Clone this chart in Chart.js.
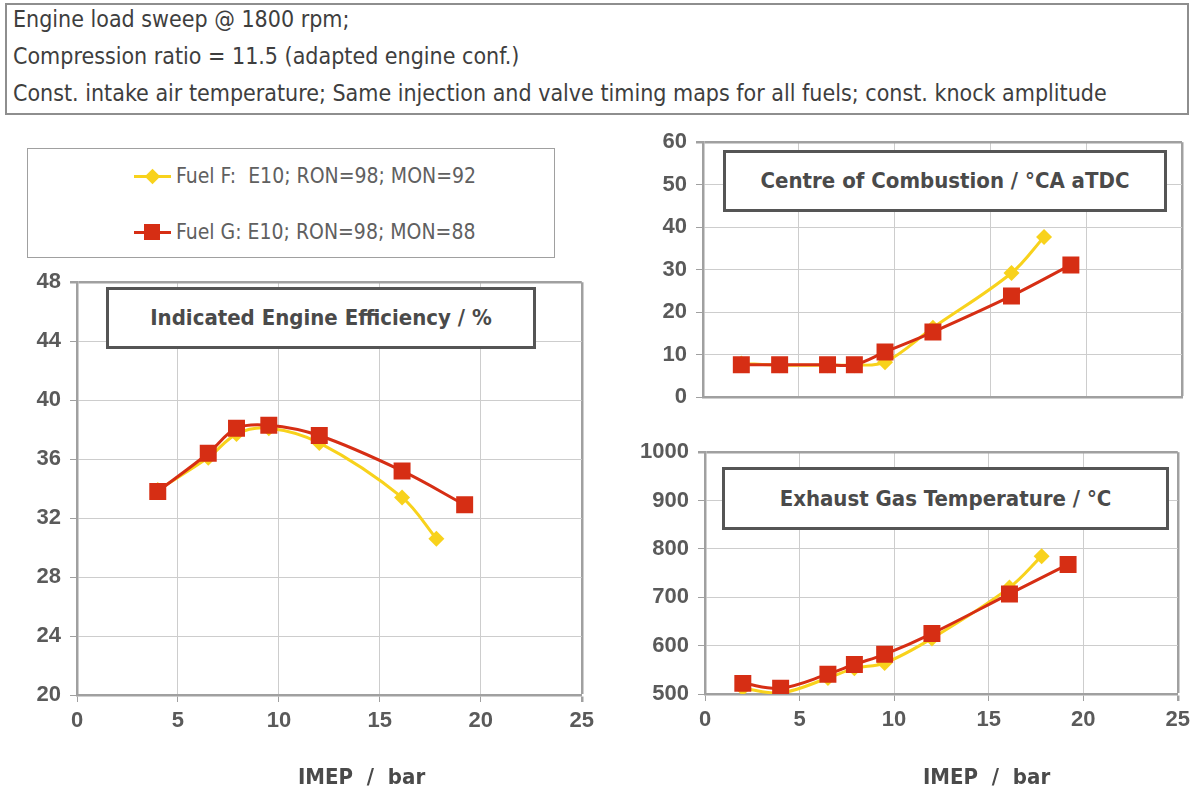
<!DOCTYPE html>
<html>
<head>
<meta charset="utf-8">
<script src="https://cdn.jsdelivr.net/npm/chart.js@4.4.1/dist/chart.umd.min.js"></script>
<style>
  body { margin: 0; background: #fff; }
  #page { position: relative; width: 1196px; height: 793px; overflow: hidden; font-family: "Liberation Sans Narrow", "DejaVu Sans Condensed", sans-serif; }
  canvas { position: absolute; }
  #header { position: absolute; left: 5px; top: 3px; width: 1184px; height: 112px; box-sizing: border-box; border: 2px solid #8e8e8e; color: #3e3e3e; font-size: 23px; line-height: 37px; padding-left: 6px; }
  #header div { position: relative; top: -4px; }
  #legend { position: absolute; left: 27px; top: 148px; width: 528px; height: 110px; box-sizing: border-box; border: 1.5px solid #a0a0a0; color: #606060; font-size: 21px; }
  .leg { position: absolute; left: 106px; height: 30px; line-height: 30px; }
  .leg .ln { position: absolute; left: 0; top: 14px; width: 37px; height: 3px; }
  .leg .mk { position: absolute; }
  .leg span.tx { position: absolute; left: 42px; top: 0; white-space: pre; }
  .tbox { position: absolute; box-sizing: border-box; border: 3px solid #555; background: #fff; color: #4a4a4a; font-weight: bold; font-size: 22px; text-align: center; z-index: 2; }
  .axt { position: absolute; color: #4a4a4a; font-weight: bold; font-size: 22px; white-space: pre; }
</style>
</head>
<body>
<div id="page">
  <div id="header">
    <div>Engine load sweep @ 1800 rpm;</div>
    <div>Compression ratio = 11.5 (adapted engine conf.)</div>
    <div>Const. intake air temperature; Same injection and valve timing maps for all fuels; const. knock amplitude</div>
  </div>

  <div id="legend">
    <div class="leg" style="top:12px">
      <div class="ln" style="background:#F8D21C"></div>
      <div class="mk" style="left:13px;top:10px;width:11px;height:11px;background:#F8D21C;transform:rotate(45deg)"></div>
      <span class="tx">Fuel F:  E10; RON=98; MON=92</span>
    </div>
    <div class="leg" style="top:68px">
      <div class="ln" style="background:#D62E14"></div>
      <div class="mk" style="left:10px;top:7px;width:16px;height:16px;background:#D62E14"></div>
      <span class="tx">Fuel G: E10; RON=98; MON=88</span>
    </div>
  </div>

  <canvas id="effChart" width="600" height="533" style="left:0;top:260px"></canvas>
  <canvas id="cocChart" width="576" height="320" style="left:620px;top:120px"></canvas>
  <canvas id="egtChart" width="576" height="363" style="left:620px;top:430px"></canvas>

  <div class="tbox" style="left:106px;top:287px;width:430px;height:62px;line-height:56px">Indicated Engine Efficiency / %</div>
  <div class="tbox" style="left:723px;top:150px;width:444px;height:62px;line-height:56px">Centre of Combustion / °CA aTDC</div>
  <div class="tbox" style="left:722px;top:467px;width:447px;height:63px;line-height:57px">Exhaust Gas Temperature / °C</div>

  <div class="axt" style="left:298px;top:764px">IMEP  /  bar</div>
  <div class="axt" style="left:923px;top:764px">IMEP  /  bar</div>
</div>

<script>
// IMEP / bar (same load points for both fuels, F stops earlier)
var imepF = [2, 4, 6.5, 7.9, 9.5, 12, 16.1, 17.8];
var imepG = [2, 4, 6.5, 7.9, 9.5, 12, 16.1, 19.2];

// Indicated engine efficiency / %  (no point at 2 bar)
var effF = [null, 33.9, 36.1, 37.7, 38.1, 37.1, 33.4, 30.6];
var effG = [null, 33.8, 36.4, 38.1, 38.3, 37.6, 35.2, 32.9];

// Centre of combustion / °CA aTDC
var cocF = [7.9, 7.5, 7.5, 7.5, 8.2, 16.3, 29.2, 37.7];
var cocG = [7.6, 7.6, 7.6, 7.6, 10.6, 15.3, 23.8, 31.1];

// Exhaust gas temperature / °C
var egtF = [512, 502, 533, 553, 564, 615, 720, 785];
var egtG = [522, 512, 541, 561, 582, 625, 707, 768];

var nameF = 'Fuel F:  E10; RON=98; MON=92';
var nameG = 'Fuel G: E10; RON=98; MON=88';
var colF = '#F8D21C';
var colG = '#D62E14';

var gridCol = '#cdcdcd';
var edgeCol = '#a0a0a0';

Chart.defaults.font.family = '"Liberation Sans", Arial, sans-serif';
Chart.defaults.font.size = 22;
Chart.defaults.font.weight = 'bold';
Chart.defaults.color = '#5a5a5a';

function pts(xs, ys) {
  var out = [];
  for (var i = 0; i < xs.length; i++) {
    if (ys[i] !== null) out.push({ x: xs[i], y: ys[i] });
  }
  return out;
}

function makeDatasets(f, g) {
  return [
    {
      label: nameF, data: pts(imepF, f),
      borderColor: colF, backgroundColor: colF, borderWidth: 3,
      pointStyle: 'rectRot', pointRadius: 8, pointBorderWidth: 0,
      tension: 0.35, order: 2
    },
    {
      label: nameG, data: pts(imepG, g),
      borderColor: colG, backgroundColor: colG, borderWidth: 3,
      pointStyle: 'rect', pointRadius: 12, pointBorderWidth: 0,
      tension: 0.35, order: 1
    }
  ];
}

function edgeGrid(max) {
  return {
    color: function(c) { return c.tick && c.tick.value === max ? edgeCol : gridCol; },
    lineWidth: function(c) { return c.tick && c.tick.value === max ? 2.5 : 1; },
    tickLength: 7,
    tickColor: edgeCol
  };
}

function plain(v) { return String(v); }

function makeChart(id, f, g, y, box) {
  var ctx = document.getElementById(id).getContext('2d');
  return new Chart(ctx, {
    type: 'line',
    data: { datasets: makeDatasets(f, g) },
    options: {
      responsive: false,
      animation: false,
      layout: { padding: { left: 0, top: box.top, right: box.right, bottom: 0 } },
      plugins: { legend: { display: false }, tooltip: { enabled: false } },
      scales: {
        x: {
          type: 'linear', min: 0, max: 25,
          ticks: { stepSize: 5, display: box.xLabels, padding: 6, callback: plain },
          grid: Object.assign(edgeGrid(25), { drawTicks: box.xLabels }),
          border: { color: edgeCol, width: 2.5 },
          afterFit: function(s) { s.height = box.xh; }
        },
        y: {
          min: y.min, max: y.max,
          ticks: { stepSize: y.step, padding: 9, callback: plain },
          grid: edgeGrid(y.max),
          border: { color: edgeCol, width: 2.5 },
          afterFit: function(s) { s.width = box.yw; }
        }
      }
    }
  });
}

var effChart = makeChart('effChart', effF, effG,
  { min: 20, max: 48, step: 4 },
  { top: 18, right: 17, xh: 98, yw: 77, xLabels: true });

var cocChart = makeChart('cocChart', cocF, cocG,
  { min: 0, max: 60, step: 10 },
  { top: 21, right: 14, xh: 43, yw: 83, xLabels: false });

var egtChart = makeChart('egtChart', egtF, egtG,
  { min: 500, max: 1000, step: 100 },
  { top: 20, right: 13, xh: 99, yw: 85, xLabels: true });
</script>
</body>
</html>
